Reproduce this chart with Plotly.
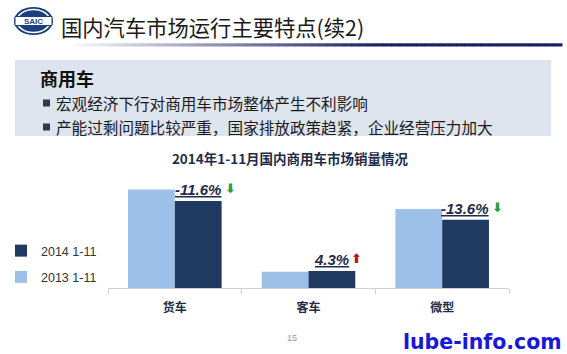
import plotly.graph_objects as go

# ---------------- data ----------------
categories = ["货车", "客车", "微型"]
sales_2013 = [297, 49, 238]
sales_2014 = [262.5, 51.1, 205.6]
change_labels = ["-11.6%", "4.3%", "-13.6%"]
change_dirs = ["down", "up", "down"]
series_names = ["2013 1-11", "2014 1-11"]

header_title = "国内汽车市场运行主要特点(续2)"
box_heading = "商用车"
bullets = ["宏观经济下行对商用车市场整体产生不利影响",
           "产能过剩问题比较严重，国家排放政策趋紧，企业经营压力加大"]
chart_title = "2014年1-11月国内商用车市场销量情况"
page_no = "15"
watermark = "lube-info.com"

# ---------------- geometry helpers ----------------
FW, FH = 567, 354
L, R, T, B = 108, 58, 160, 66
PW, PH = FW - L - R, FH - T - B


def px(x):
    return (x - L) / PW


def py(y):
    return (T + PH - y) / PH


CJK = "Noto Sans CJK SC"
LIGHT = "#9dc0e8"
DARK = "#1f3960"
NAVY_TXT = "#1f2b47"

fig = go.Figure()
fig.add_trace(go.Bar(name=series_names[0], x=categories, y=sales_2013,
                     marker=dict(color=LIGHT, line=dict(width=0)),
                     legendgroup="a", legendrank=2))
fig.add_trace(go.Bar(name=series_names[1], x=categories, y=sales_2014,
                     marker=dict(color=DARK, line=dict(width=0)),
                     legendgroup="b", legendrank=1))

shapes = []
annotations = []

# header gradient line
n = 60
x0, x1 = 75, 562
for i in range(n):
    t = i / (n - 1)
    tt = min(1.0, t * 1.6)
    c0 = (245, 245, 248)
    c1 = (27, 30, 100)
    col = tuple(int(c0[k] + (c1[k] - c0[k]) * tt) for k in range(3))
    xa = x0 + (x1 - x0) * i / n
    xb = x0 + (x1 - x0) * (i + 1) / n + 0.5
    shapes.append(dict(type="rect", xref="paper", yref="paper",
                       x0=px(xa), x1=px(xb), y0=py(46.5), y1=py(43.3),
                       fillcolor="rgb(%d,%d,%d)" % col, line=dict(width=0),
                       layer="below"))

# logo
shapes.append(dict(type="circle", xref="paper", yref="paper",
                   x0=px(14), x1=px(53), y0=py(35), y1=py(7),
                   fillcolor="#1d3f7c", line=dict(width=0)))
shapes.append(dict(type="circle", xref="paper", yref="paper",
                   x0=px(17), x1=px(50), y0=py(32.5), y1=py(9.5),
                   fillcolor="#1d3f7c", line=dict(color="white", width=1.5)))
shapes.append(dict(type="rect", xref="paper", yref="paper",
                   x0=px(15), x1=px(52), y0=py(25.5), y1=py(16.5),
                   fillcolor="white", line=dict(color="#1d3f7c", width=1)))
annotations.append(dict(text="<b>SAIC</b>", xref="paper", yref="paper",
                        x=px(33.5), y=py(21), xanchor="center", yanchor="middle",
                        showarrow=False,
                        font=dict(family="Liberation Sans", size=8, color="#1d3f7c")))

# header title
annotations.append(dict(text=header_title, xref="paper", yref="paper",
                        x=px(59), y=py(26), xanchor="left", yanchor="middle",
                        showarrow=False,
                        font=dict(family=CJK, size=21.3, color="#1a1a1a")))

# grey box
shapes.append(dict(type="rect", xref="paper", yref="paper",
                   x0=px(15), x1=px(551), y0=py(136), y1=py(60),
                   fillcolor="#dde4ee", line=dict(width=0), layer="below"))
annotations.append(dict(text="<b>" + box_heading + "</b>", xref="paper", yref="paper",
                        x=px(38), y=py(78), xanchor="left", yanchor="middle",
                        showarrow=False,
                        font=dict(family=CJK, size=18, color="#111111")))
for i, btxt in enumerate(bullets):
    yc = [103, 127][i]
    shapes.append(dict(type="rect", xref="paper", yref="paper",
                       x0=px(43), x1=px(50), y0=py(yc + 3.5), y1=py(yc - 3.5),
                       fillcolor="#2f3a4a", line=dict(width=0)))
    annotations.append(dict(text=btxt, xref="paper", yref="paper",
                            x=px(54), y=py(yc), xanchor="left", yanchor="middle",
                            showarrow=False,
                            font=dict(family=CJK, size=15.6, color="#1a1a1a")))

# change labels and arrows
for cat, v, lab, d in zip(categories, sales_2014, change_labels, change_dirs):
    annotations.append(dict(text="<b><i><u>" + lab + "</u></i></b>", xref="x", yref="y",
                            x=cat, y=v, xshift=23, yshift=1,
                            xanchor="center", yanchor="bottom", showarrow=False,
                            font=dict(family="Liberation Sans", size=15, color=NAVY_TXT)))
    arrow = "⬇" if d == "down" else "⬆"
    col = "#2e9b48" if d == "down" else "#c0141c"
    annotations.append(dict(text="<b>" + arrow + "</b>", xref="x", yref="y",
                            x=cat, y=v, xshift=23 + len(lab) * 3.9 + 9, yshift=3,
                            xanchor="center", yanchor="bottom", showarrow=False,
                            font=dict(family="DejaVu Sans", size=13, color=col)))

# page number and watermark
annotations.append(dict(text=page_no, xref="paper", yref="paper",
                        x=px(292), y=py(338), xanchor="center", yanchor="middle",
                        showarrow=False,
                        font=dict(family="Liberation Sans", size=9, color="#9a9a9a")))
annotations.append(dict(text="<b>" + watermark + "</b>", xref="paper", yref="paper",
                        x=px(482), y=py(342), xanchor="center", yanchor="middle",
                        showarrow=False,
                        font=dict(family="DejaVu Sans", size=20.5, color="#1818d8")))

fig.update_layout(
    width=FW, height=FH, autosize=False,
    margin=dict(l=L, r=R, t=T, b=B, pad=0, autoexpand=False),
    paper_bgcolor="white", plot_bgcolor="white",
    barmode="group", bargap=0.3, bargroupgap=0,
    title=dict(text="<b>" + chart_title + "</b>", x=290 / FW, xanchor="center",
               xref="container", yref="container", y=1 - 159 / FH, yanchor="middle",
               font=dict(family=CJK, size=13.5, color=NAVY_TXT)),
    showlegend=True,
    legend=dict(x=px(1), y=py(236), xanchor="left", yanchor="top",
                traceorder="grouped", tracegroupgap=7, itemwidth=30,
                bgcolor="rgba(0,0,0,0)", borderwidth=0,
                font=dict(family="Liberation Sans", size=12.5, color="#333333")),
    xaxis=dict(type="category", range=[-0.5, 2.5], tickson="boundaries",
               ticks="outside", ticklen=5, tickcolor="#d0d0d0", tickwidth=1,
               showline=True, linecolor="#d0d0d0", linewidth=1, showgrid=False,
               zeroline=False, ticklabelstandoff=9,
               tickfont=dict(family=CJK, size=12, color=NAVY_TXT, weight="bold")),
    yaxis=dict(visible=False, range=[0, 386]),
    shapes=shapes, annotations=annotations,
)

fig.write_html("out.html")
